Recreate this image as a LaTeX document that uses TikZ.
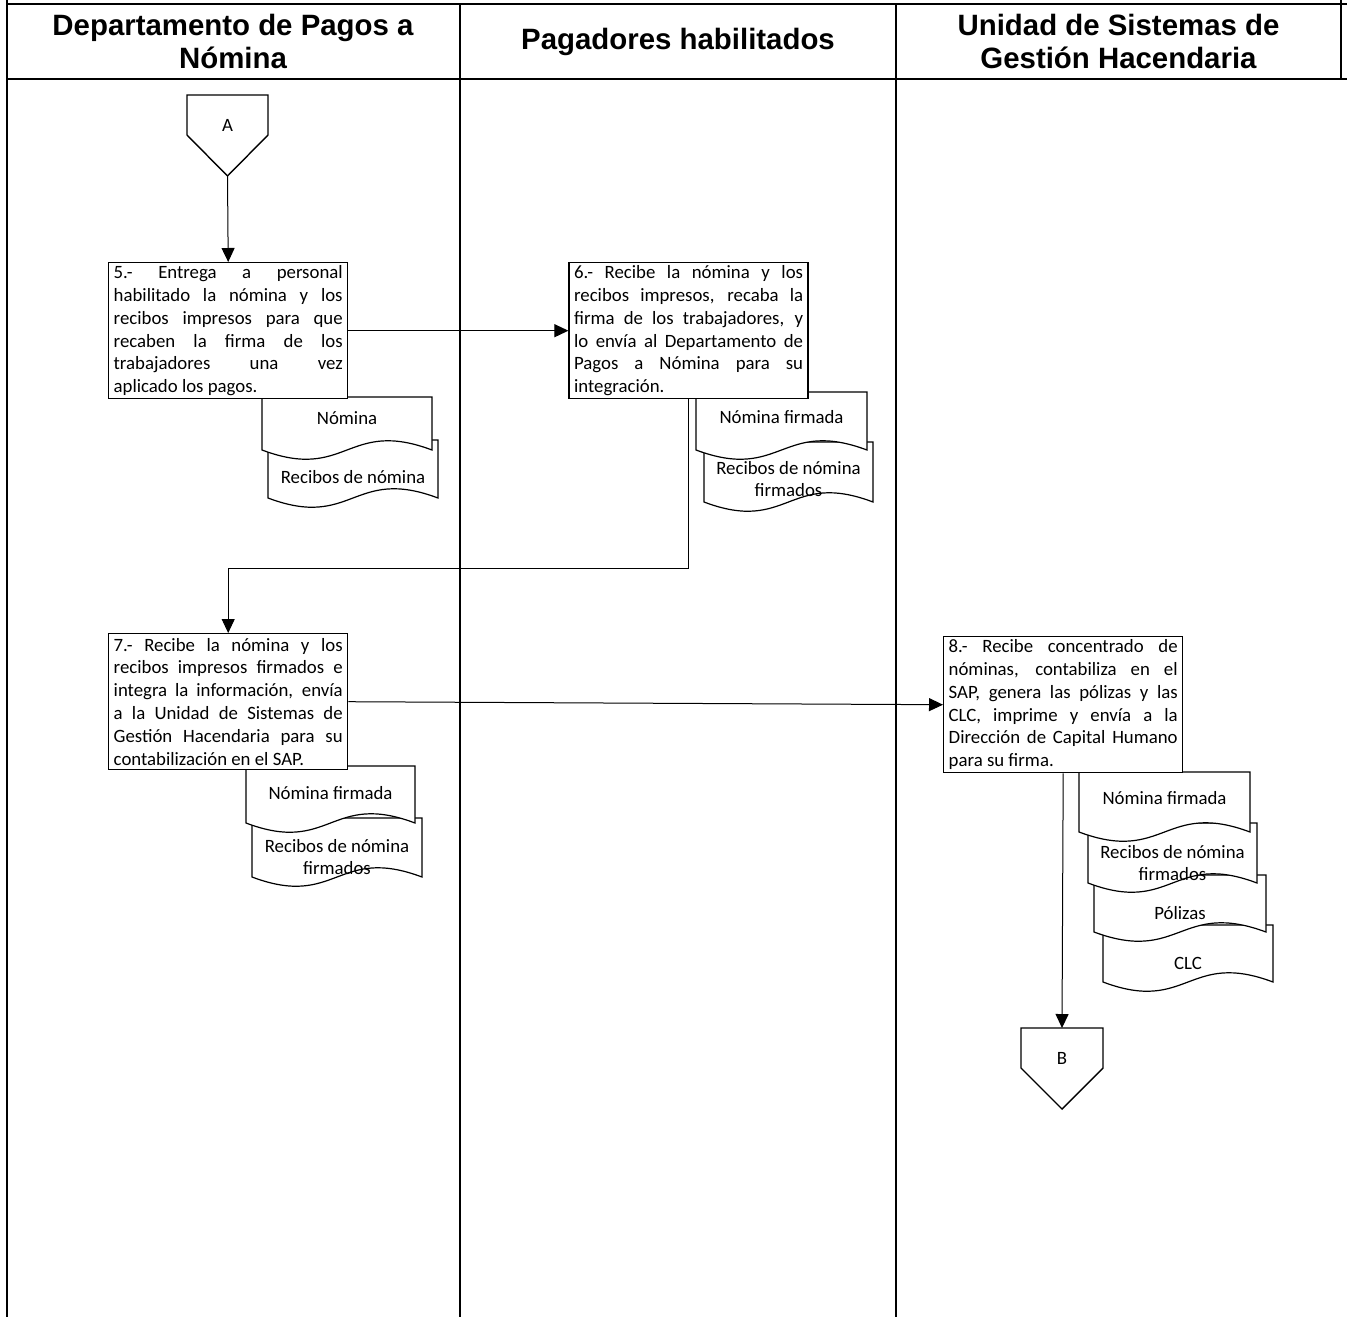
\documentclass[tikz,border=0pt]{standalone}
\usepackage{fontspec}
\setmainfont{Carlito}
\newfontfamily\headfont{Liberation Sans}
\usetikzlibrary{calc,positioning,arrows.meta}
\tikzset{
  lane/.style={line width=1.3pt},
  lanehead/.style={align=center, font=\headfont\bfseries\fontsize{14.7}{16.5}\selectfont},
  procbox/.style={draw, fill=white, line width=0.7pt, anchor=north west,
    text width=114.5pt, align=justify, inner xsep=2.5pt, inner ysep=0.5pt,
    minimum height=68pt, font=\fontsize{9.4}{11.4}\selectfont},
  docline/.style={draw, fill=white, line width=0.6pt},
  doctext/.style={align=center, inner sep=0pt, font=\fontsize{9.4}{11}\selectfont},
  conn/.style={draw, fill=white, line width=0.7pt},
  flow/.style={line width=0.5pt, -{Triangle[length=7pt,width=6.5pt]}}
}
\tolerance=10000
\hyphenpenalty=10000
\begin{document}
\begin{tikzpicture}[x=0.5pt, y=-0.5pt]
  \useasboundingbox (0,0) rectangle (1347,1317);
  \draw[lane] (7,0) -- (7,1317);
  \draw[lane] (7,4) -- (1347,4);
  \draw[lane] (7,79) -- (1347,79);
  \draw[lane] (460,4) -- (460,1317);
  \draw[lane] (896,4) -- (896,1317);
  \draw[lane] (1341,0) -- (1341,79);
  \node[lanehead] (hd1) at (233,41.5) {Departamento de Pagos a\\Nómina};
  \node[lanehead] (hd2) at (678,41.5) {Pagadores habilitados};
  \node[lanehead] (hd3) at (1118.5,41.5) {Unidad de Sistemas de\\Gestión Hacendaria};

  \draw[conn] (187,95) -- (268,95) -- (268,135) -- (227.5,176) -- (187,135) -- cycle;
  \node[doctext] (conA) at (227.5,125) {A};
  \coordinate (conAtip) at (227.5,176);

  \foreach \nm/\dx/\dy/\dw/\dh/\ty/\txt in {
    dRec5/268/440/170/58/477/{Recibos de nómina},
    dNom5/262/397/170/53/418/{Nómina},
    dRec6/704/442/169/60/479/{Recibos de nómina\\firmados},
    dNom6/696/392/171/58/417/{Nómina firmada},
    dRec7/252/818/170/59/857/{Recibos de nómina\\firmados},
    dNom7/246/766/169/57/793/{Nómina firmada},
    dClc8/1103/925/170/57/963/{CLC},
    dPol8/1094/875/172/57/913/{Pólizas},
    dRec8/1088/823/169/60/863/{Recibos de nómina\\firmados},
    dNom8/1079/772/171/60/798/{Nómina firmada}}{
    \draw[docline] (\dx,\dy) -- (\dx+\dw,\dy) -- (\dx+\dw,\dy+\dh)
      .. controls (\dx+0.5*\dw,\dy+\dh-32) and (\dx+0.5*\dw,\dy+\dh+32) .. (\dx,\dy+\dh) -- cycle;
    \node[doctext] (\nm) at (\dx+0.5*\dw,\ty) {\txt};
  }

  \node[procbox] (b5) at (108,262) {5.- Entrega a personal\linebreak
    habilitado la nómina y los\linebreak recibos impresos para que\linebreak
    recaben la firma de los\linebreak trabajadores una vez\linebreak
    aplicado los pagos.};
  \node[procbox, right=110pt of b5] (b6) {6.- Recibe la nómina y los\linebreak
    recibos impresos, recaba la\linebreak firma de los trabajadores, y\linebreak
    lo envía al Departamento de\linebreak Pagos a Nómina para su\linebreak
    integración.};
  \node[procbox] (b7) at (108,633) {7.- Recibe la nómina y los\linebreak
    recibos impresos firmados e\linebreak integra la información, envía\linebreak
    a la Unidad de Sistemas de\linebreak Gestión Hacendaria para su\linebreak
    contabilización en el SAP.};
  \node[procbox] (b8) at (943,636) {8.- Recibe concentrado de\linebreak
    nóminas, contabiliza en el\linebreak SAP, genera las pólizas y las\linebreak
    CLC, imprime y envía a la\linebreak Dirección de Capital Humano\linebreak
    para su firma.};

  \draw[conn] (1021,1028) -- (1103,1028) -- (1103,1068) -- (1062,1109) -- (1021,1068) -- cycle;
  \node[doctext] (conB) at (1062,1058) {B};
  \coordinate (conBtop) at (1062,1028);

  \coordinate (k67) at ($(b7.north)+(0,-65)$);
  \draw[flow] (conAtip) -- (b5.north);
  \draw[flow] (b5) -- (b6);
  \draw[flow] (b6.south) |- (k67) -- (b7.north);
  \draw[flow] (b7.east) -- (b8.west);
  \draw[flow] (b8.south) -- (conBtop);
\end{tikzpicture}
\end{document}
